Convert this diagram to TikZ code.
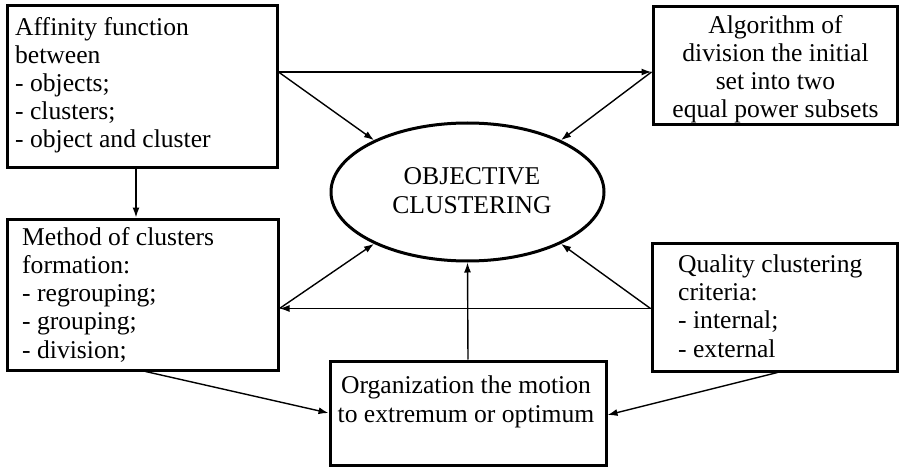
\documentclass[tikz,border=0pt]{standalone}
\usepackage{fontspec}
\setmainfont{Liberation Serif}
\usetikzlibrary{arrows.meta,shapes.geometric}
\begin{document}
\begin{tikzpicture}[x=1pt,y=-1pt,
  box/.style={draw, line width=3pt, inner sep=0pt, rectangle},
  txt/.style={inner sep=0pt, font=\fontsize{25.6}{28.2}\selectfont},
  arr/.style={line width=1.4pt, -{Latex[length=10pt,width=7pt]}},
  ln/.style={line width=1.4pt}]
\useasboundingbox (0,0) rectangle (900,468);
% boxes
\node[box, minimum width=270pt, minimum height=162pt] (A) at (142,87) {};
\node[box, minimum width=244pt, minimum height=118pt] (B) at (775,66) {};
\node[box, minimum width=271pt, minimum height=151pt] (C) at (142.5,294.5) {};
\node[box, minimum width=245pt, minimum height=128pt] (D) at (774.5,307) {};
\node[box, minimum width=276pt, minimum height=104pt] (E) at (468,413) {};
\node[draw, ellipse, line width=3pt, inner sep=0pt, minimum width=273pt, minimum height=138pt] (O) at (467.5,192) {};
% texts (anchor base = baseline of last line)
\node[txt, anchor=base west, align=left] (At) at (15,148) {Affinity function\\between\\- objects;\\- clusters;\\- object and cluster};
\node[txt, anchor=base, align=center] (Bt) at (775.5,118) {Algorithm of\\division the initial\\set into two\\equal power subsets};
\node[txt, anchor=base west, align=left] (Ct) at (22,358) {Method of clusters\\formation:\\- regrouping;\\- grouping;\\- division;};
\node[txt, anchor=base west, align=left] (Dt) at (678,357) {Quality clustering\\criteria:\\- internal;\\- external};
\node[txt, anchor=base, align=center] (Et) at (466,422) {Organization the motion\\to extremum or optimum};
\node[txt, anchor=base, align=center] (Ot) at (472,213) {OBJECTIVE\\CLUSTERING};
% connectors
\coordinate (pA) at ([yshift=15pt]A.east);
\coordinate (pB) at (B.west |- pA);
\coordinate (pC) at ([yshift=-14pt]C.east);
\coordinate (pD) at (D.west |- pC);
\draw[arr] (pA) -- (pB);
\draw[arr] (pA) -- (O.151);
\draw[arr] (pB) -- (O.29);
\draw[arr] (A.south -| 136,0) -- (C.north -| 136,0);
\draw[arr] (pD) -- (pC);
\draw[arr] (pC) -- (O.209);
\draw[arr] (pD) -- (O.331);
\draw[arr] (E.north) -- (O.south);
\draw[arr] ([xshift=3pt]C.south) -- ([yshift=0pt]E.west);
\draw[arr] ([xshift=3pt]D.south) -- ([yshift=-2pt]E.east);
\end{tikzpicture}
\end{document}
